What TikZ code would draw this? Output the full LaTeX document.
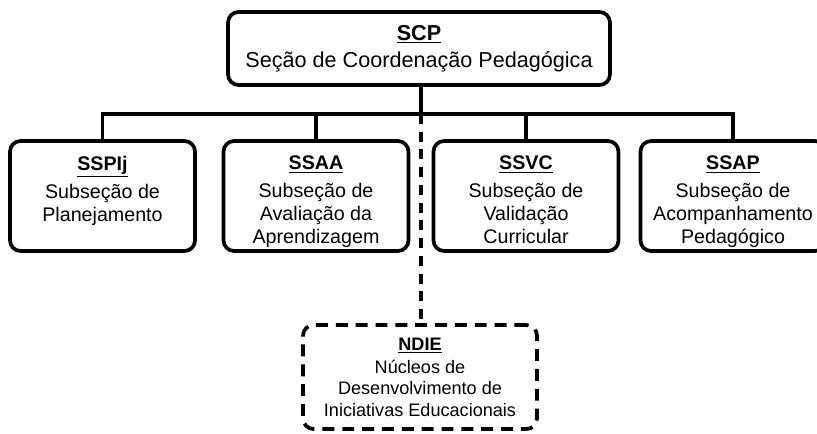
\documentclass[tikz,border=0pt]{standalone}
\usepackage{fontspec}
\setmainfont{Liberation Sans}
\newcommand{\subtext}[2]{\parbox[t][1.6cm][t]{3.6cm}{\centering\underline{\textbf{#1}}\\[3pt]#2}}

\begin{document}
\begin{tikzpicture}[x=0.02cm,y=-0.02cm,
    unitbox/.style={draw, line width=2.1pt, rounded corners=6pt, inner sep=0pt, align=center},
    sub/.style={unitbox, minimum width=3.7cm, minimum height=2.2cm, font=\fontsize{11.2}{13}\selectfont},
    conn/.style={line width=2.1pt}]
    \useasboundingbox (0,0) rectangle (817,433);

    \node [unitbox, minimum width=7.64cm, minimum height=1.46cm, font=\fontsize{12.3}{14.5}\selectfont] (scp) at (419,48.5)
        {\underline{\textbf{SCP}}\\[1pt]Seção de Coordenação Pedagógica};

    \node [sub] (sspij) at (102.5,196) {\subtext{SSPIj}{Subseção de\\Planejamento}};
    \node [sub] (ssaa) at (316,196) {\subtext{SSAA}{Subseção de\\Avaliação da\\Aprendizagem}};
    \node [sub] (ssvc) at (526,196) {\subtext{SSVC}{Subseção de\\Validação\\Curricular}};
    \node [sub] (ssap) at (733,196) {\subtext{SSAP}{Subseção de\\Acompanhamento\\Pedagógico}};

    \node [unitbox, dash pattern=on 6.8pt off 4.5pt, minimum width=4.68cm, minimum height=2.08cm,
        font=\fontsize{10.3}{12.2}\selectfont] (ndie) at (420,377)
        {\underline{\textbf{NDIE}}\\[1pt]Núcleos de\\Desenvolvimento de\\Iniciativas Educacionais};

    % ligacoes
    \coordinate (bus) at (421,114);
    \draw [conn] (scp.south -| bus) -- (bus);
    \draw [conn] (sspij.north) |- (bus) -| (ssap.north);
    \draw [conn] (ssaa.north) -- (ssaa.north |- bus);
    \draw [conn] (ssvc.north) -- (ssvc.north |- bus);
    \draw [conn, dash pattern=on 5.6pt off 4.5pt] (bus) -- (ndie.north -| bus);
\end{tikzpicture}
\end{document}
